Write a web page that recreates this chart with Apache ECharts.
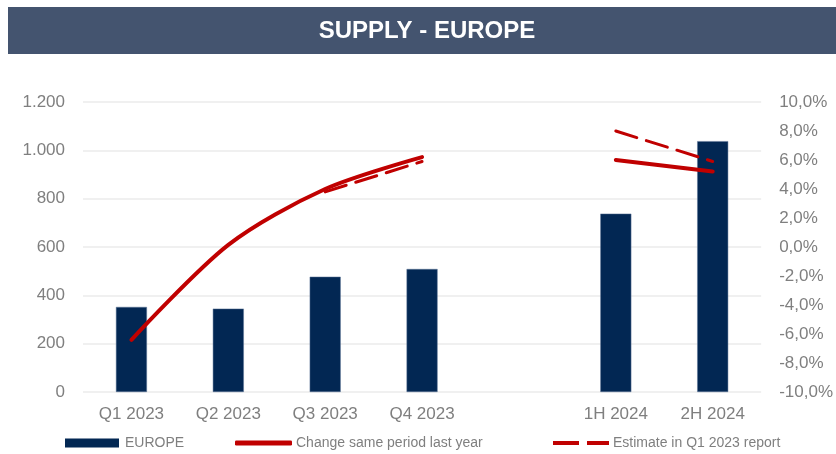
<!DOCTYPE html>
<html>
<head>
<meta charset="utf-8">
<script src="https://cdn.jsdelivr.net/npm/echarts@6/dist/echarts.min.js"></script>
<style>
    html, body { margin: 0; padding: 0; background: #fff; }
    #J_supply { width: 836px; height: 454px; }
</style>
</head>
<body>
<div id="J_supply"></div>
<script>
var categories = ['Q1 2023', 'Q2 2023', 'Q3 2023', 'Q4 2023', '', '1H 2024', '2H 2024'];
var europe = [352, 345, 477, 509, null, 738, 1038];
var changeLastYear = [-6.4, 0.15, 4.0, 6.2, null, 6.0, 5.2];
var estimateQ1 = [null, null, 3.8, 5.9, null, 8.0, 5.9];
var leftTicks = [0, 1200, 200];
var rightTicks = [-10, 10, 2];

var font = 'Liberation Sans';
var grey = '#7f7f7f';
var red = '#c00000';

var chart = echarts.init(document.getElementById('J_supply'));

function legendText(gap) {
    return {color: grey, fontFamily: font, fontSize: 14, padding: [0, 0, 0, gap]};
}

var option = {
    animation: false,
    graphic: [
        {
            type: 'rect',
            shape: {x: 8, y: 7, width: 828, height: 47},
            style: {fill: '#44546f'},
            silent: true
        },
        {
            type: 'text',
            x: 427,
            y: 31,
            style: {
                text: 'SUPPLY - EUROPE',
                fill: '#fff',
                font: 'bold 24px "Liberation Sans"',
                align: 'center',
                verticalAlign: 'middle'
            },
            silent: true
        }
    ],
    grid: {left: 83, right: 74, top: 102, bottom: 62},
    legend: [
        {
            left: 65, top: 436, padding: 0,
            itemWidth: 54, itemHeight: 9,
            textStyle: legendText(1),
            data: [{name: 'EUROPE', icon: 'rect', itemStyle: {borderWidth: 0}}]
        },
        {
            left: 235, top: 436, padding: 0,
            itemWidth: 57, itemHeight: 5,
            textStyle: legendText(-1),
            data: [{name: 'Change same period last year', icon: 'roundRect'}]
        },
        {
            left: 553, top: 436, padding: 0,
            itemWidth: 56, itemHeight: 4,
            textStyle: legendText(-1),
            data: [{name: 'Estimate in Q1 2023 report', icon: 'path://M0,0H26V4H0Z M34,0H56V4H34Z'}]
        }
    ],
    xAxis: {
        type: 'category',
        data: categories,
        axisLine: {show: false},
        axisTick: {show: false},
        axisLabel: {color: grey, fontFamily: font, fontSize: 17, margin: 14, interval: 0}
    },
    yAxis: [
        {
            type: 'value',
            min: leftTicks[0], max: leftTicks[1], interval: leftTicks[2],
            axisLine: {show: false},
            axisTick: {show: false},
            splitLine: {lineStyle: {color: '#ebebeb', width: 1.5}},
            axisLabel: {
                color: grey, fontFamily: font, fontSize: 17, margin: 18,
                formatter: function (v) {
                    return String(v).replace(/\B(?=(\d{3})+(?!\d))/g, '.');
                }
            }
        },
        {
            type: 'value',
            min: rightTicks[0], max: rightTicks[1], interval: rightTicks[2],
            axisLine: {show: false},
            axisTick: {show: false},
            splitLine: {show: false},
            axisLabel: {
                color: grey, fontFamily: font, fontSize: 17, margin: 18,
                formatter: function (v) {
                    return v.toFixed(1).replace('.', ',') + '%';
                }
            }
        }
    ],
    series: [
        {
            name: 'EUROPE',
            type: 'bar',
            yAxisIndex: 0,
            barWidth: 31,
            data: europe,
            itemStyle: {color: '#022753', borderColor: '#5d7596', borderWidth: 0.5}
        },
        {
            name: 'Change same period last year',
            type: 'line',
            yAxisIndex: 1,
            smooth: 0.3,
            showSymbol: false,
            symbol: 'none',
            data: changeLastYear,
            itemStyle: {color: red},
            lineStyle: {color: red, width: 4, cap: 'round'},
            z: 4
        },
        {
            name: 'Estimate in Q1 2023 report',
            type: 'line',
            yAxisIndex: 1,
            showSymbol: false,
            symbol: 'none',
            data: estimateQ1,
            itemStyle: {color: red},
            lineStyle: {color: red, width: 3, type: [22, 10], cap: 'round'},
            z: 3
        }
    ]
};

chart.setOption(option);
</script>
</body>
</html>
